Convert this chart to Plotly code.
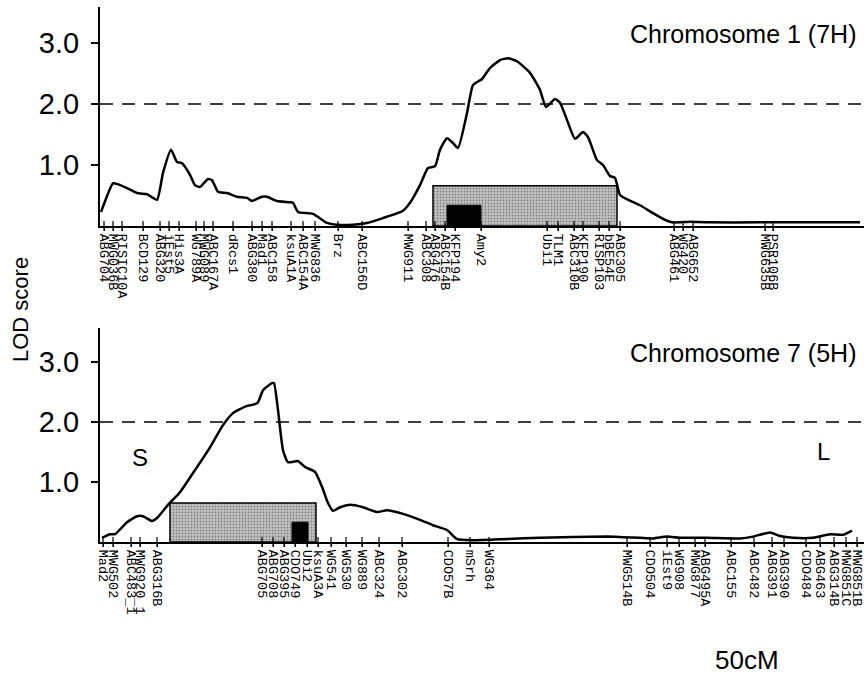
import plotly.graph_objects as go

# ---------------- data (map position units along chromosome, LOD scores) ----------------
top_markers = ["ABG704", "MWG036B", "RISIC10A", "BCD129", "ABG320", "iEst5", "His3A", "WG789A",
               "MWG089", "ABC167A", "dRcs1", "ABG380", "Mad1", "ABC158", "ksuA1A", "ABC154A",
               "MWG836", "Brz", "ABC156D", "MWG911", "ABC308", "ABG476", "ABC154B", "KFP194",
               "Amy2", "Ubi1", "TLM1", "ABC310B", "KFP190", "RISP103", "bBE54E", "ABC305",
               "ABG461", "WG420", "ABG652", "MWG635B", "PSR106B"]
top_marker_pos = [4, 13, 22, 43, 60, 69, 79, 96, 104, 113, 133, 152, 162, 172, 191, 203,
                  215, 238, 262, 308, 326, 335, 345, 355, 381, 447, 458, 474, 483, 499, 509, 520,
                  574, 583, 593, 665, 673]

top_curve_pos = [1, 13, 17, 27, 37, 47, 57, 63, 71, 77, 82, 90, 95, 100, 108, 112, 118, 127,
                 137, 147, 152, 162, 167, 177, 190, 193, 198, 213, 227, 237, 253, 267, 283, 303,
                 310, 320, 328, 335, 340, 347, 353, 358, 367, 373, 382, 390, 400, 408, 417, 430,
                 440, 446, 455, 460, 467, 475, 483, 488, 497, 503, 510, 515, 520, 528, 540, 553,
                 565, 572, 590, 607, 660, 760]
top_curve_lod = [0.23, 0.70, 0.69, 0.62, 0.54, 0.52, 0.43, 0.87, 1.25, 1.05, 1.03, 0.84, 0.67,
                 0.64, 0.77, 0.75, 0.56, 0.54, 0.48, 0.46, 0.41, 0.48, 0.48, 0.41, 0.39, 0.38,
                 0.23, 0.20, 0.05, 0.02, 0.02, 0.05, 0.13, 0.25, 0.38, 0.67, 0.95, 0.98, 1.25,
                 1.44, 1.36, 1.28, 1.85, 2.31, 2.41, 2.59, 2.72, 2.75, 2.70, 2.51, 2.23, 1.95,
                 2.08, 2.02, 1.74, 1.43, 1.54, 1.46, 1.08, 1.00, 0.82, 0.79, 0.51, 0.43, 0.34,
                 0.21, 0.10, 0.06, 0.07, 0.06, 0.06, 0.06]

bot_markers = ["Mad2", "MWG502", "ABC483_1", "MWG920_1", "ABG316B", "ABG705", "ABG708", "ABG395",
               "CDO749", "Ubi2", "ksuA3A", "WG541", "WG530", "WG889", "ABC324", "ABC302",
               "CDO57B", "mSrh", "WG364", "MWG514B", "CDO504", "iEst9", "WG908", "MWG877",
               "ABG495A", "ABC155", "ABC482", "ABG391", "ABG390", "CDO484", "ABG463", "ABG314B",
               "MWG851C", "MWG851B"]
bot_marker_pos = [3, 13, 31, 40, 57, 162, 173, 184, 195, 207, 218, 231, 246, 262, 279, 302,
                  348, 370, 389, 527, 550, 567, 579, 595, 605, 631, 654, 672, 684, 706, 720, 734,
                  746, 757]

bot_curve_pos = [2, 10, 15, 27, 37, 43, 52, 57, 68, 80, 93, 110, 123, 133, 147, 155, 158, 163,
                 172, 174, 178, 183, 188, 198, 205, 215, 222, 228, 233, 240, 250, 263, 277, 287,
                 303, 320, 333, 347, 357, 373, 407, 440, 507, 523, 540, 553, 567, 580, 607, 640,
                 653, 670, 680, 693, 713, 730, 743, 752]
bot_curve_lod = [0.07, 0.13, 0.13, 0.33, 0.43, 0.43, 0.35, 0.40, 0.62, 0.83, 1.15, 1.58, 1.95,
                 2.15, 2.27, 2.30, 2.33, 2.53, 2.65, 2.65, 2.20, 1.53, 1.33, 1.35, 1.25, 1.17,
                 0.92, 0.65, 0.52, 0.58, 0.62, 0.58, 0.50, 0.53, 0.47, 0.37, 0.28, 0.20, 0.05,
                 0.03, 0.05, 0.07, 0.09, 0.08, 0.07, 0.06, 0.09, 0.07, 0.07, 0.06, 0.09, 0.16,
                 0.10, 0.07, 0.07, 0.13, 0.12, 0.19]

threshold = 2.0
top_qtl_interval = [333, 517]
top_qtl_height = 0.66
top_peak_interval = [347, 381]
top_peak_height = 0.34
bot_qtl_interval = [70, 216]
bot_qtl_height = 0.65
bot_peak_interval = [192, 208]
bot_peak_height = 0.33

y_ticks = [1, 2, 3]
x_max = 764

W, H = 864, 677


def box(interval, h):
    x0, x1 = interval
    return [x0, x0, x1, x1, x0], [0, h, h, 0, 0]


fig = go.Figure()

for xa, ya, qi, qh, pi, ph, cx, cy, mpos in [
    ("x", "y", top_qtl_interval, top_qtl_height, top_peak_interval, top_peak_height,
     top_curve_pos, top_curve_lod, top_marker_pos),
    ("x2", "y2", bot_qtl_interval, bot_qtl_height, bot_peak_interval, bot_peak_height,
     bot_curve_pos, bot_curve_lod, bot_marker_pos),
]:
    bx, by = box(qi, qh)
    fig.add_trace(go.Scatter(x=bx, y=by, xaxis=xa, yaxis=ya, mode="lines", fill="toself",
                             fillcolor="#b4b4b4",
                             fillpattern=dict(shape=".", fgcolor="#3a3a3a", bgcolor="#c4c4c4",
                                              size=3, solidity=0.3),
                             line=dict(color="black", width=1.5), hoverinfo="skip"))
    px_, py_ = box(pi, ph)
    fig.add_trace(go.Scatter(x=px_, y=py_, xaxis=xa, yaxis=ya, mode="lines", fill="toself",
                             fillcolor="black", line=dict(color="black", width=1),
                             hoverinfo="skip"))
    fig.add_trace(go.Scatter(x=cx, y=cy, xaxis=xa, yaxis=ya, mode="lines",
                             line=dict(color="black", width=2.5, shape="spline", smoothing=0.5),
                             hoverinfo="skip"))
    # marker ticks crossing the axis line
    fig.add_trace(go.Scatter(x=mpos, y=[0] * len(mpos), xaxis=xa, yaxis=ya, mode="markers",
                             marker=dict(symbol="line-ns-open", size=7, color="black",
                                         line=dict(color="black", width=1.2)),
                             cliponaxis=False, hoverinfo="skip"))
    fig.add_shape(type="line", xref=f"{xa} domain", yref=ya, x0=0, x1=1,
                  y0=threshold, y1=threshold,
                  line=dict(color="black", width=1.5, dash="13px,9px"))

x_dom = [100 / W, 1.0]
common_x = dict(range=[0, x_max], showline=True, linecolor="black", linewidth=2,
                ticks="outside", ticklen=3, tickwidth=1.2, tickcolor="black",
                tickangle=90, tickfont=dict(family="Liberation Mono", size=13.5, color="black"),
                showgrid=False, zeroline=False, automargin=False, domain=x_dom)
common_y = dict(showline=True, linecolor="black", linewidth=2, ticks="outside", ticklen=7,
                tickwidth=1.5, tickcolor="black", tickvals=y_ticks, tickformat=".1f",
                tickfont=dict(family="Liberation Sans", size=29, color="black"),
                ticklabelstandoff=6, showgrid=False, zeroline=False, automargin=False)

fig.update_layout(
    width=W, height=H, margin=dict(l=0, r=0, t=0, b=0),
    paper_bgcolor="white", plot_bgcolor="white", showlegend=False,
    xaxis=dict(common_x, anchor="y", tickvals=top_marker_pos, ticktext=top_markers),
    yaxis=dict(common_y, anchor="x", domain=[1 - 226 / H, 1 - 7 / H], range=[0, 3.59]),
    xaxis2=dict(common_x, anchor="y2", tickvals=bot_marker_pos, ticktext=bot_markers),
    yaxis2=dict(common_y, anchor="x2", domain=[1 - 542 / H, 1 - 328 / H], range=[0, 3.57]),
)

sans = "Liberation Sans"
ann = [
    ("Chromosome 1 (7H)", 858, 34, "right", 25, 0),
    ("Chromosome 7 (5H)", 858, 353, "right", 25, 0),
    ("S", 140, 457, "center", 24, 0),
    ("L", 823, 452, "center", 24, 0),
    ("50cM", 747, 660, "center", 26, 0),
    ("LOD score", 20, 310, "center", 22, -90),
]
for text, x, y, xa, size, ang in ann:
    fig.add_annotation(text=text, x=x / W, y=1 - y / H, xref="paper", yref="paper",
                       xanchor=xa, yanchor="middle", showarrow=False, textangle=ang,
                       font=dict(family=sans, size=size, color="black"))

fig.write_html("out.html", config={"displayModeBar": False},
               post_script="document.body.style.margin='0';"
                           "document.body.style.overflow='hidden';")
